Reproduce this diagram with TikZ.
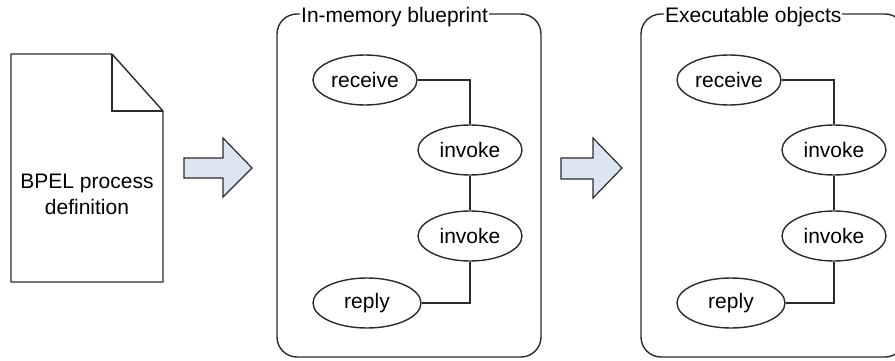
\documentclass[tikz,border=0pt]{standalone}
\usepackage{fontspec}
\setmainfont{Liberation Sans}
\usetikzlibrary{shapes.geometric}
\definecolor{arrowfill}{HTML}{DCE6F2}
\definecolor{linegray}{HTML}{2B2B2B}

\begin{document}
\begin{tikzpicture}[x=1pt,y=-1pt,
	activity/.style={draw=linegray,ellipse,line width=1.4pt,inner sep=0pt,minimum height=50pt,font=\fontsize{21}{25}\selectfont},
	link/.style={draw=linegray,line width=1.2pt},
	blockarrow/.style={draw=linegray,fill=arrowfill,line width=1.2pt,line join=miter},
	frame/.style={draw=linegray,line width=1.4pt,rounded corners=20pt},
	title/.style={fill=white,inner sep=1pt,anchor=base west,font=\fontsize{21}{25}\selectfont}]
	\useasboundingbox (0,0) rectangle (895,361);
	% le document BPEL
	\draw[linegray,line width=1.4pt,line join=miter] (11,54) -- (112,54) -- (163,111) -- (163,282) -- (11,282) -- cycle;
	\draw[linegray,line width=1.4pt,line join=miter] (112,54) -- (112,111) -- (163,111);
	\node[align=center,font=\fontsize{21}{26}\selectfont] (bpel) at (87,194) {BPEL process\\definition};
	% les fleches
	\draw[blockarrow] (184,158) -- (223,158) -- (223,138) -- (252,168) -- (223,197) -- (223,178) -- (184,178) -- cycle;
	\draw[blockarrow] (561,158) -- (593,158) -- (593,138) -- (622,168) -- (593,198) -- (593,179) -- (561,179) -- cycle;
	% les deux cadres
	\foreach \dx/\nm/\ttl in {0/mem/In-memory blueprint,364/exe/Executable objects}{
		\draw[frame] (277+\dx,14) rectangle (541+\dx,357);
		\node[title] (\nm-title) at (300+\dx,23) {\ttl};
		\node[activity,minimum width=104pt] (\nm-receive) at (365+\dx,80) {receive};
		\node[activity,minimum width=104pt] (\nm-invokeA) at (470+\dx,150) {invoke};
		\node[activity,minimum width=104pt] (\nm-invokeB) at (470+\dx,236) {invoke};
		\node[activity,minimum width=108pt] (\nm-reply) at (367+\dx,303) {reply};
		\draw[link] (\nm-receive.east) -| (\nm-invokeA.north);
		\draw[link] (\nm-invokeA.south) -- (\nm-invokeB.north);
		\draw[link] (\nm-invokeB.south) |- (\nm-reply.east);
	}
\end{tikzpicture}
\end{document}
